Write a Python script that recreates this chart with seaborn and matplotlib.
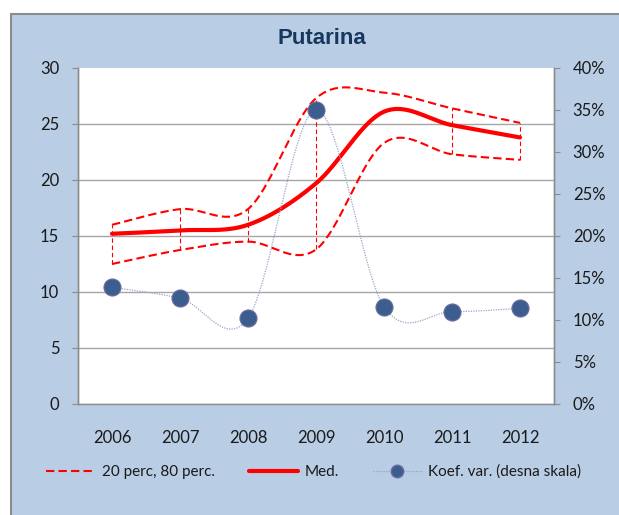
import numpy as np
import pandas as pd
import matplotlib
matplotlib.use("Agg")
import matplotlib.pyplot as plt
from matplotlib.lines import Line2D
from matplotlib.patches import Rectangle
from matplotlib.ticker import FuncFormatter
import seaborn as sns

# ---- data ----
years = ["2006", "2007", "2008", "2009", "2010", "2011", "2012"]
p20 = [12.5, 13.75, 14.5, 13.8, 23.3, 22.3, 21.8]
p80 = [16.0, 17.4, 17.4, 27.3, 27.8, 26.4, 25.1]
med = [15.2, 15.5, 16.0, 19.7, 26.1, 24.9, 23.8]
cv = [0.139, 0.126, 0.102, 0.350, 0.116, 0.110, 0.114]
range_bars = [1, 1, 1, 1, 0, 1, 1]
left_ticks = [0, 5, 10, 15, 20, 25, 30]
right_ticks = [0, 0.05, 0.10, 0.15, 0.20, 0.25, 0.30, 0.35, 0.40]

sns.set_style("white")
plt.rcParams["font.family"] = ["Lato", "DejaVu Sans"]

W, H = 619, 515
fig = plt.figure(figsize=(W / 100, H / 100), dpi=100)
fig.patch.set_facecolor("white")
fig.patches.append(Rectangle((11 / W, -0.05), 1.1, (H - 14) / H + 0.05,
                             transform=fig.transFigure, facecolor="#B9CDE5",
                             edgecolor="#8C8C8C", linewidth=1.5, zorder=-10))

ax = fig.add_axes([78 / W, (H - 404) / H, (554 - 78) / W, (404 - 68) / H])
ax.set_facecolor("white")
ax2 = ax.twinx()


def smooth(xs, ys, n=40):
    xs = np.asarray(xs, float)
    ys = np.asarray(ys, float)
    P = np.column_stack([xs, ys])
    out = []
    m = len(P)
    for i in range(m - 1):
        p0 = P[max(i - 1, 0)]
        p1 = P[i]
        p2 = P[i + 1]
        p3 = P[min(i + 2, m - 1)]
        c1 = p1 + (p2 - p0) / 6.0
        c2 = p2 - (p3 - p1) / 6.0
        t = np.linspace(0, 1, n)[:, None]
        seg = ((1 - t) ** 3) * p1 + 3 * ((1 - t) ** 2) * t * c1 + 3 * (1 - t) * t ** 2 * c2 + t ** 3 * p2
        out.append(seg if i == 0 else seg[1:])
    s = np.vstack(out)
    return s[:, 0], s[:, 1]


x = np.arange(len(years))
red = "#FF0000"

# range bars
for xi, lo, hi, flag in zip(x, p20, p80, range_bars):
    if flag:
        ax.plot([xi, xi], [lo, hi], color=red, lw=0.8, dashes=(4, 2.5), zorder=3)

sx, sy = smooth(x, p80)
ax.plot(sx, sy, color=red, lw=1.5, dashes=(4, 2), zorder=4)
sx, sy = smooth(x, p20)
ax.plot(sx, sy, color=red, lw=1.5, dashes=(4, 2), zorder=4)
sx, sy = smooth(x, med)
ax.plot(sx, sy, color=red, lw=3.0, solid_capstyle="round", zorder=5)

# coefficient of variation (right scale)
cx, cy = smooth(x, cv)
ax2.plot(cx, cy, color="#97A6C4", lw=0.9, dashes=(1, 1), zorder=2)
df = pd.DataFrame({"x": x, "cv": cv})
sns.scatterplot(data=df, x="x", y="cv", ax=ax2, s=150, color="#3B5E8F",
                edgecolor="#6C6A9C", linewidth=0.8, zorder=6, legend=False)

# axes styling
ax.set_xlim(-0.5, 6.5)
ax.set_ylim(0, 30)
ax2.set_ylim(0, 0.40)
ax.set_xticks(x)
ax.set_xticklabels(years)
ax.set_yticks(left_ticks)
ax2.set_yticks(right_ticks)
ax2.yaxis.set_major_formatter(FuncFormatter(lambda v, p: f"{int(round(v * 100))}%"))
ax.set_xlabel("")
ax.set_ylabel("")
ax2.set_xlabel("")
ax2.set_ylabel("")

ax.grid(axis="y", color="#A6A6A6", lw=1.0)
ax.set_axisbelow(True)
ax.get_ygridlines()[-1].set_visible(False)

for a in (ax, ax2):
    a.spines["top"].set_visible(False)
    for s in ("left", "right", "bottom"):
        a.spines[s].set_color("#8C8C8C")
        a.spines[s].set_linewidth(1.0)
ax2.spines["bottom"].set_visible(False)

ax.tick_params(axis="y", direction="out", length=4.5, width=0.8, color="#8C8C8C",
               pad=9, labelsize=12, labelcolor="#1A1A1A", left=True)
ax.tick_params(axis="x", length=0, pad=19, labelsize=12, labelcolor="#1A1A1A")
ax2.tick_params(axis="y", direction="out", length=4.5, width=0.8, color="#8C8C8C",
                pad=9, labelsize=12, labelcolor="#1A1A1A", right=True)

# title
fig.text(322 / W, 1 - 38.5 / H, "Putarina", ha="center", va="center",
         fontsize=16, fontweight="bold", color="#17375E",
         family=["Liberation Sans", "DejaVu Sans"])

# legend
handles = [
    Line2D([], [], color=red, lw=1.5, dashes=(4, 2)),
    Line2D([], [], color=red, lw=3.0),
    Line2D([], [], color="#97A6C4", lw=0.9, dashes=(1, 1), marker="o",
           markersize=9, markerfacecolor="#3B5E8F", markeredgecolor="#6C6A9C"),
]
labels = ["20 perc, 80 perc.", "Med.", "Koef. var. (desna skala)"]
fig.legend(handles, labels, loc="center", bbox_to_anchor=(314 / W, 1 - 472 / H),
           ncol=3, frameon=False, fontsize=11, handlelength=3.2,
           handletextpad=0.45, columnspacing=2.2, labelcolor="#1A1A1A")

fig.savefig("out.png", dpi=100, facecolor=fig.get_facecolor())
